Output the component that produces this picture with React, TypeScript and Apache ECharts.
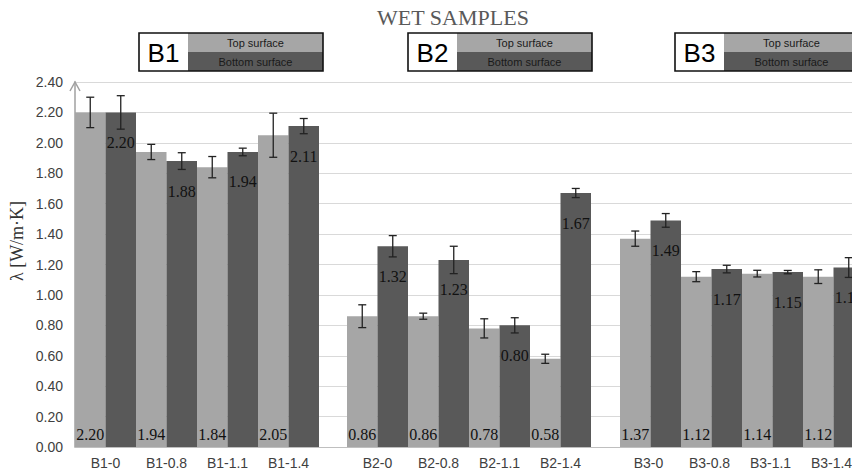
import React, { useEffect, useRef } from "react";
import * as echarts from "echarts";

const title = "WET SAMPLES";
const yAxisTitle = "λ [W/m·K]";
const seriesNames = ["Top surface", "Bottom surface"];
const groupNames = ["B1", "B2", "B3"];

const categoriesB1 = ["B1-0", "B1-0.8", "B1-1.1", "B1-1.4"];
const categoriesB2 = ["B2-0", "B2-0.8", "B2-1.1", "B2-1.4"];
const categoriesB3 = ["B3-0", "B3-0.8", "B3-1.1", "B3-1.4"];

const topB1 = [2.2, 1.94, 1.84, 2.05];
const bottomB1 = [2.2, 1.88, 1.94, 2.11];
const topB2 = [0.86, 0.86, 0.78, 0.58];
const bottomB2 = [1.32, 1.23, 0.8, 1.67];
const topB3 = [1.37, 1.12, 1.14, 1.12];
const bottomB3 = [1.49, 1.17, 1.15, 1.18];

const topErrB1 = [0.1, 0.05, 0.07, 0.145];
const bottomErrB1 = [0.11, 0.055, 0.025, 0.05];
const topErrB2 = [0.075, 0.02, 0.063, 0.03];
const bottomErrB2 = [0.07, 0.09, 0.05, 0.03];
const topErrB3 = [0.05, 0.033, 0.022, 0.045];
const bottomErrB3 = [0.045, 0.025, 0.011, 0.065];

const yMin = 0;
const yMax = 2.4;
const yInterval = 0.2;

const LIGHT = "#a6a6a6";
const DARK = "#595959";
const SANS = "'Liberation Sans', Arial, sans-serif";
const SERIF = "'Liberation Serif', 'Times New Roman', serif";

const groups = [
  { cats: categoriesB1, top: topB1, bottom: bottomB1, topErr: topErrB1, bottomErr: bottomErrB1 },
  { cats: categoriesB2, top: topB2, bottom: bottomB2, topErr: topErrB2, bottomErr: bottomErrB2 },
  { cats: categoriesB3, top: topB3, bottom: bottomB3, topErr: topErrB3, bottomErr: bottomErrB3 },
];

const GRID_TOP = 82;
const GRID_H = 365;
const GROUP_LEFTS = [75, 347, 620];
const GROUP_W = 244;
const LEGEND_LEFTS = [139, 408, 675];
const CHART_W = 900;

function buildOption() {
  const grid: any[] = [{ left: 75, top: GRID_TOP, width: 789, height: GRID_H }];
  const xAxis: any[] = [
    {
      type: "value",
      gridIndex: 0,
      min: 0,
      max: 1,
      axisLine: { show: true, lineStyle: { color: "#bfbfbf" } },
      axisTick: { show: false },
      axisLabel: { show: false },
      splitLine: { show: false },
    },
  ];
  const yAxis: any[] = [
    {
      type: "value",
      gridIndex: 0,
      min: yMin,
      max: yMax,
      interval: yInterval,
      axisLine: { show: true, lineStyle: { color: "#a0a0a0", width: 1.5 } },
      axisTick: { show: false },
      axisLabel: {
        formatter: (v: number) => v.toFixed(2),
        color: "#404040",
        fontFamily: SANS,
        fontSize: 14,
        margin: 12,
      },
      splitLine: { show: true, lineStyle: { color: "#d9d9d9", width: 1 } },
    },
  ];
  const series: any[] = [];

  groups.forEach((g, gi) => {
    const idx = gi + 1;
    grid.push({ left: GROUP_LEFTS[gi], top: GRID_TOP, width: GROUP_W, height: GRID_H });
    xAxis.push({
      type: "category",
      gridIndex: idx,
      data: g.cats,
      axisLine: { show: false },
      axisTick: { show: false },
      axisLabel: {
        color: "#404040",
        fontFamily: SANS,
        fontSize: 14,
        margin: 9,
        padding: gi === 2 ? [0, 4, 0, 0] : 0,
      },
      splitLine: { show: false },
    });
    yAxis.push({
      type: "value",
      gridIndex: idx,
      min: yMin,
      max: yMax,
      interval: yInterval,
      show: false,
      splitLine: { show: false },
    });
    series.push({
      type: "bar",
      name: seriesNames[0],
      xAxisIndex: idx,
      yAxisIndex: idx,
      data: g.top,
      barGap: "0%",
      barCategoryGap: "0%",
      itemStyle: { color: LIGHT },
      label: {
        show: true,
        position: "insideBottom",
        distance: 5,
        formatter: (p: any) => Number(p.value).toFixed(2),
        color: "#111",
        fontFamily: SERIF,
        fontSize: 16,
      },
    });
    series.push({
      type: "bar",
      name: seriesNames[1],
      xAxisIndex: idx,
      yAxisIndex: idx,
      data: g.bottom,
      barGap: "0%",
      barCategoryGap: "0%",
      itemStyle: { color: DARK },
      label: {
        show: true,
        position: "insideTop",
        distance: 22,
        formatter: (p: any) => Number(p.value).toFixed(2),
        color: "#111",
        fontFamily: SERIF,
        fontSize: 16,
      },
    });
    const errData = g.top
      .map((v, i) => [i, v, g.topErr[i], -1])
      .concat(g.bottom.map((v, i) => [i, v, g.bottomErr[i], 1]));
    series.push({
      type: "custom",
      xAxisIndex: idx,
      yAxisIndex: idx,
      data: errData,
      encode: { x: 0, y: 1 },
      z: 10,
      silent: true,
      renderItem: (params: any, api: any) => {
        const i = api.value(0);
        const v = api.value(1);
        const e = api.value(2);
        const side = api.value(3);
        const bw = api.size([1, 0])[0];
        const x = api.coord([i, v])[0] + (side * bw) / 4;
        const yHi = api.coord([i, v + e])[1];
        const yLo = api.coord([i, v - e])[1];
        const cap = 4;
        const st = { stroke: "#222", lineWidth: 1.3 };
        return {
          type: "group",
          children: [
            { type: "line", shape: { x1: x, y1: yHi, x2: x, y2: yLo }, style: st },
            { type: "line", shape: { x1: x - cap, y1: yHi, x2: x + cap, y2: yHi }, style: st },
            { type: "line", shape: { x1: x - cap, y1: yLo, x2: x + cap, y2: yLo }, style: st },
          ],
        };
      },
    });
  });

  const graphic: any[] = [
    {
      type: "polyline",
      shape: { points: [[70, 91], [75, 82], [80, 91]] },
      style: { stroke: "#a0a0a0", lineWidth: 1.5, fill: "none" },
      z: 20,
    },
    {
      type: "text",
      x: 17,
      y: 241,
      rotation: Math.PI / 2,
      style: {
        text: yAxisTitle,
        font: `18px ${SERIF}`,
        fill: "#333",
        align: "center",
        verticalAlign: "middle",
      },
    },
  ];

  groupNames.forEach((name, gi) => {
    const W = 184;
    const H = 38;
    const labW = 49;
    const rw = W - labW;
    graphic.push({
      type: "group",
      x: LEGEND_LEFTS[gi],
      y: 33,
      children: [
        { type: "rect", shape: { x: 0, y: 0, width: labW, height: H }, style: { fill: "#fff" } },
        { type: "rect", shape: { x: labW, y: 0, width: rw, height: H / 2 }, style: { fill: LIGHT } },
        { type: "rect", shape: { x: labW, y: H / 2, width: rw, height: H / 2 }, style: { fill: DARK } },
        {
          type: "rect",
          shape: { x: 0, y: 0, width: W, height: H },
          style: { fill: "none", stroke: "#111", lineWidth: 1.6 },
        },
        {
          type: "text",
          x: labW / 2,
          y: H / 2 + 1,
          style: {
            text: name,
            font: `26px ${SANS}`,
            fill: "#000",
            align: "center",
            verticalAlign: "middle",
          },
        },
        {
          type: "text",
          x: labW + rw / 2,
          y: H / 4 + 0.5,
          style: {
            text: seriesNames[0],
            font: `11px ${SANS}`,
            fill: "#1a1a1a",
            align: "center",
            verticalAlign: "middle",
          },
        },
        {
          type: "text",
          x: labW + rw / 2,
          y: (3 * H) / 4 + 0.5,
          style: {
            text: seriesNames[1],
            font: `11px ${SANS}`,
            fill: "#1a1a1a",
            align: "center",
            verticalAlign: "middle",
          },
        },
      ],
    });
  });

  return {
    animation: false,
    backgroundColor: "#fff",
    title: {
      text: title,
      left: 448,
      top: 1,
      textAlign: "center",
      textStyle: { fontFamily: SERIF, fontSize: 22, fontWeight: "normal", color: "#595959" },
    },
    grid,
    xAxis,
    yAxis,
    series,
    graphic,
  };
}

export default function App() {
  const ref = useRef<HTMLDivElement>(null);
  useEffect(() => {
    if (!ref.current) return;
    const chart = echarts.init(ref.current, undefined, { renderer: "svg" });
    chart.setOption(buildOption() as any);
    return () => chart.dispose();
  }, []);
  return (
    <div
      style={{
        position: "fixed",
        left: 0,
        top: 0,
        width: 852,
        height: 471,
        overflow: "hidden",
        background: "#fff",
      }}
    >
      <div ref={ref} style={{ width: CHART_W, height: 471 }} />
    </div>
  );
}
